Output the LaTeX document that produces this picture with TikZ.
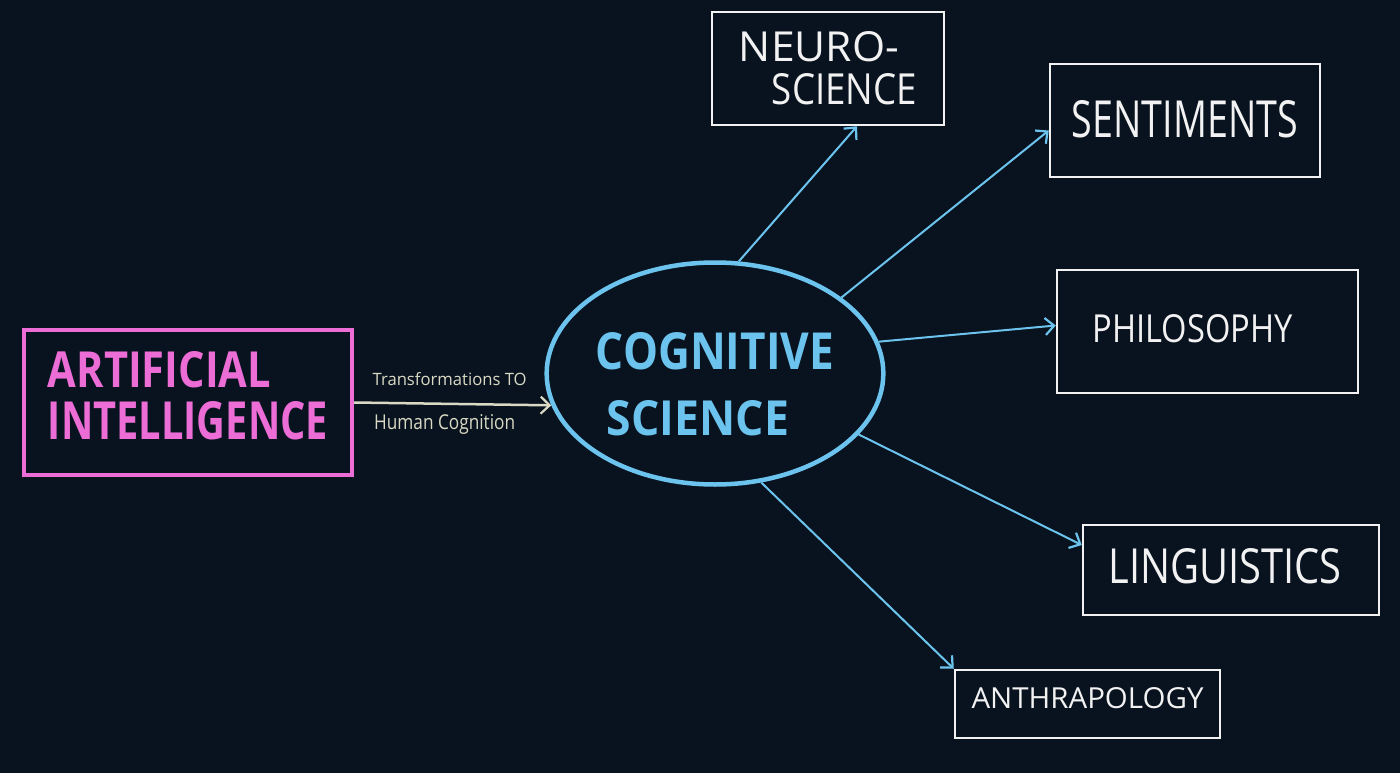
\documentclass[tikz,border=0pt]{standalone}
\usepackage{fontspec}
\usepackage{graphicx}
\setmainfont{Open Sans}
\newfontfamily\handfont{Open Sans}
\usetikzlibrary{arrows.meta,shapes.geometric,calc}
\definecolor{bgdark}{HTML}{08131F}
\definecolor{aipink}{HTML}{EC6DD6}
\definecolor{cogblue}{HTML}{6CC4EE}
\definecolor{boxwhite}{HTML}{F2F2F2}
\definecolor{beige}{HTML}{D9D9C4}
\newcommand{\hw}[3]{\resizebox{#1pt}{#2pt}{\handfont #3}}
\newcommand{\hwb}[3]{\resizebox{#1pt}{#2pt}{\handfont\bfseries #3}}
\begin{document}
\begin{tikzpicture}[x=1pt,y=-1pt,
  whitebox/.style={draw=boxwhite,line width=2.5pt,rectangle,inner sep=0pt,text=boxwhite},
  link/.style={draw=cogblue,line width=2pt,-{Straight Barb[length=9pt,width=17pt,line width=2.2pt]}},
  small/.style={inner sep=0pt,text=beige}
]
\fill[bgdark] (0,0) rectangle (1400,773);
\useasboundingbox (0,0) rectangle (1400,773);

% Artificial intelligence
\node[draw=aipink,line width=4pt,rectangle,inner sep=0pt,minimum width=328pt,minimum height=145pt,
      align=left,text=aipink,font=\fontsize{10}{52}\selectfont] (ai) at (188,402.5)
  {\hwb{223}{36}{ARTIFICIAL}\\\hwb{280}{38}{INTELLIGENCE}\rule[-14pt]{0pt}{14pt}};

% Cognitive science
\node[ellipse,draw=cogblue,line width=4.5pt,inner sep=0pt,minimum width=334pt,minimum height=222pt,
      align=left,text=cogblue,font=\fontsize{10}{66}\selectfont] (cog) at (715,373.5)
  {\rule{0pt}{58pt}\hwb{238}{37}{COGNITIVE}\\\hspace{11pt}\hwb{182}{35}{SCIENCE}};

% Outer boxes
\node[whitebox,minimum width=232pt,minimum height=113pt,align=left,font=\fontsize{10}{43}\selectfont] (neuro) at (828,68.5)
  {\hw{160}{30}{NEURO-}\\\hspace{33pt}\hw{145}{31}{SCIENCE}};
\node[whitebox,minimum width=270pt,minimum height=113pt] (sent) at (1185,120.5)
  {\hw{226}{37}{SENTIMENTS}\rule[-4pt]{0pt}{4pt}};
\node[whitebox,minimum width=301pt,minimum height=123pt] (phil) at (1207.5,331.5)
  {\hw{200}{28}{PHILOSOPHY}\kern30pt\rule[-6pt]{0pt}{6pt}};
\node[whitebox,minimum width=296pt,minimum height=90pt] (ling) at (1231,570)
  {\hw{233}{35}{LINGUISTICS}\kern12pt\rule[-8pt]{0pt}{8pt}};
\node[whitebox,minimum width=265pt,minimum height=68pt] (anth) at (1087.5,704)
  {\hw{232}{21}{ANTHRAPOLOGY}\rule[-12pt]{0pt}{12pt}};

% AI -> cognitive science
\draw[draw=beige,line width=2.5pt,-{Straight Barb[length=9pt,width=17pt,line width=2.2pt]}] (ai.east) -- (cog.191)
  node[small,midway,anchor=south,yshift=17pt,xshift=-3pt] {\hw{154}{13}{Transformations TO}}
  node[small,midway,anchor=north,yshift=-9pt,xshift=-8pt] {\hw{141}{15}{Human Cognition}};

% Cognitive science -> disciplines
\draw[link] (cog.78.8) -- ($(neuro.south)+(29,0)$);
\draw[link] (cog.31.6) -- ($(sent.west)+(0,10)$);
\draw[link] (cog.11.8) -- ($(phil.west)+(0,-6)$);
\draw[link] (cog.-23.3) -- ($(ling.west)+(0,-25)$);
\draw[link] (cog.-67.2) -- (anth.north west);
\end{tikzpicture}
\end{document}
